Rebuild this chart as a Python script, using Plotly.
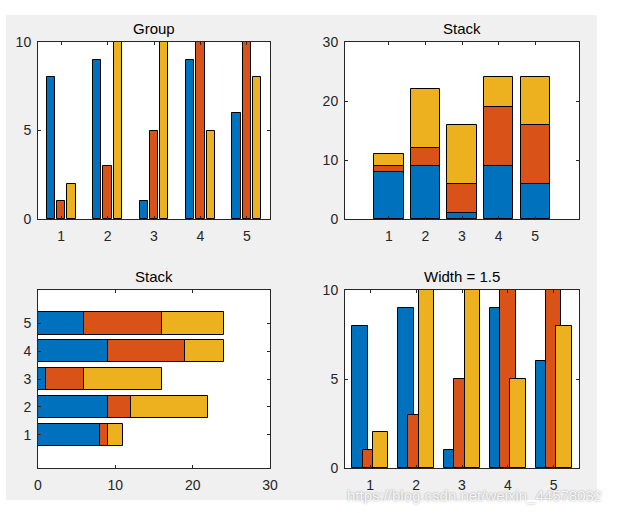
import plotly.graph_objects as go

categories = [1, 2, 3, 4, 5]
series1 = [8, 9, 1, 9, 6]
series2 = [1, 3, 5, 10, 10]
series3 = [2, 10, 10, 5, 8]
series_list = [series1, series2, series3]
colors = ["#0072BD", "#D95319", "#EDB120"]
titles = ["Group", "Stack", "Stack", "Width = 1.5"]
watermark = "https://blog.csdn.net/weixin_44578032"

W, H = 620, 513
FONT = "Liberation Sans, Arial, sans-serif"
AX = "#262626"

def px_x(p):
    return p / W

def px_y(p):
    return 1 - p / H

fig = go.Figure()

# Axis boxes in pixels: (left, right, top, bottom)
boxes = {
    1: (38, 270, 42, 219),
    2: (345, 579, 42, 219),
    3: (38, 270, 290, 468),
    4: (345, 579, 290, 468),
}

# grouped bar geometry (MATLAB style)
ns = len(series_list)
groupwidth = min(0.8, ns / (ns + 1.5))
slot = groupwidth / ns

def add_group(xa, ya, width_factor):
    bw = slot * width_factor
    for i, (vals, c) in enumerate(zip(series_list, colors)):
        center = (i - (ns - 1) / 2) * slot
        fig.add_trace(go.Bar(
            x=categories, y=vals, width=bw, offset=center - bw / 2,
            marker=dict(color=c, line=dict(color="#000000", width=1)),
            xaxis=xa, yaxis=ya, showlegend=False, hoverinfo="skip"))

# 1: grouped
add_group("x", "y", 0.8)

# 2: vertical stack
base = [0] * len(categories)
for vals, c in zip(series_list, colors):
    fig.add_trace(go.Bar(
        x=categories, y=vals, base=list(base), width=0.8,
        marker=dict(color=c, line=dict(color="#000000", width=1)),
        xaxis="x2", yaxis="y2", showlegend=False, hoverinfo="skip"))
    base = [b + v for b, v in zip(base, vals)]

# 3: horizontal stack
base = [0] * len(categories)
for vals, c in zip(series_list, colors):
    fig.add_trace(go.Bar(
        y=categories, x=vals, base=list(base), width=0.8, orientation="h",
        marker=dict(color=c, line=dict(color="#000000", width=1)),
        xaxis="x3", yaxis="y3", showlegend=False, hoverinfo="skip"))
    base = [b + v for b, v in zip(base, vals)]

# 4: grouped, width 1.5
add_group("x4", "y4", 1.5)

common = dict(showline=True, mirror="ticks", linecolor=AX, linewidth=1,
              ticks="inside", ticklen=3, tickcolor=AX, tickwidth=1,
              showgrid=False, zeroline=False, automargin=False,
              tickfont=dict(family=FONT, size=14, color=AX), fixedrange=True)

ranges = {
    1: dict(x=[0.5, 5.5], xt=[1, 2, 3, 4, 5], y=[0, 10], yt=[0, 5, 10]),
    2: dict(x=[-0.2, 6.2], xt=[1, 2, 3, 4, 5], y=[0, 30], yt=[0, 10, 20, 30]),
    3: dict(x=[0, 30], xt=[0, 10, 20, 30], y=[-0.2, 6.2], yt=[1, 2, 3, 4, 5]),
    4: dict(x=[0.45, 5.55], xt=[1, 2, 3, 4, 5], y=[0, 10], yt=[0, 5, 10]),
}

layout = {}
for k, (l, r, t, b) in boxes.items():
    sx = "" if k == 1 else str(k)
    rg = ranges[k]
    layout["xaxis" + sx] = dict(common, domain=[px_x(l), px_x(r)], range=rg["x"],
                                tickvals=rg["xt"], anchor="y" + sx, ticklabelstandoff=4)
    layout["yaxis" + sx] = dict(common, domain=[px_y(b), px_y(t)], range=rg["y"],
                                tickvals=rg["yt"], anchor="x" + sx, ticklabelstandoff=3)

annotations = []
for k, title in zip([1, 2, 3, 4], titles):
    l, r, t, b = boxes[k]
    annotations.append(dict(text=title, x=px_x((l + r) / 2), y=px_y(t - 3),
                            xref="paper", yref="paper", xanchor="center", yanchor="bottom",
                            showarrow=False, font=dict(family=FONT, size=15, color="#000000")))
annotations.append(dict(text=watermark, x=px_x(474), y=px_y(495), xref="paper", yref="paper",
                        xanchor="center", yanchor="middle", showarrow=False,
                        font=dict(family=FONT, size=15, color="rgba(255,255,255,0.9)",
                                  shadow="0px 0px 2px rgba(0,0,0,0.45)")))

# white outer band around the grey figure area (does not overlap any plot area)
def band(x0, x1, y0, y1):
    return dict(type="rect", xref="paper", yref="paper", x0=px_x(x0), x1=px_x(x1),
                y0=px_y(y1), y1=px_y(y0), fillcolor="#ffffff", line=dict(width=0),
                layer="below")

shapes = [band(0, 6, 0, 513), band(0, 620, 0, 15), band(597, 620, 0, 513), band(0, 620, 500, 513)]

fig.update_layout(
    width=W, height=H, margin=dict(l=0, r=0, t=0, b=0, pad=0, autoexpand=False),
    paper_bgcolor="#f0f0f0", plot_bgcolor="#ffffff",
    barmode="overlay", bargap=0,
    annotations=annotations,
    shapes=shapes,
    **layout,
)

fig.write_html(
    "out.html",
    config={"displayModeBar": False},
    post_script="document.body.style.margin='0';document.body.style.padding='0';"
                "document.documentElement.style.overflow='hidden';",
)
